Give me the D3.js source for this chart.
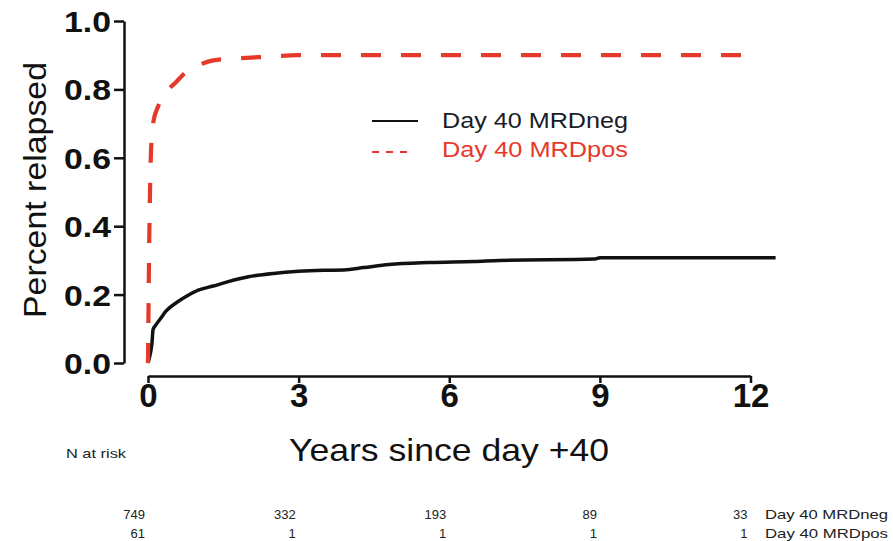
<!DOCTYPE html>
<html><head><meta charset="utf-8">
<script src="https://cdn.jsdelivr.net/npm/d3@7/dist/d3.min.js"></script>
<style>body{margin:0;background:#fff}svg{display:block;font-family:"Liberation Sans",Arial,sans-serif}</style>
</head><body><svg id="c" width="893" height="541"></svg>
<script>
const xTicks = [0, 3, 6, 9, 12];
const yTicks = [0.0, 0.2, 0.4, 0.6, 0.8, 1.0];
const negYears = [0, 0.05, 0.08, 0.1, 0.15, 0.25, 0.35, 0.45, 0.6, 0.8, 1.0, 1.3, 1.6, 2.0, 2.5, 3.0, 3.5, 3.9, 4.3, 4.8, 5.6, 6.5, 7.0, 8.9, 9.0, 12.5];
const negValues = [0, 0.03, 0.06, 0.097, 0.11, 0.13, 0.15, 0.164, 0.18, 0.198, 0.213, 0.225, 0.238, 0.252, 0.262, 0.268, 0.271, 0.272, 0.279, 0.288, 0.294, 0.297, 0.3, 0.304, 0.308, 0.308];
const posYears = [0, 0.01, 0.02, 0.04, 0.06, 0.1, 0.2, 0.35, 0.55, 0.75, 1.0, 1.3, 1.7, 2.3, 3.0, 12.2];
const posValues = [0, 0.15, 0.3, 0.5, 0.62, 0.7, 0.75, 0.79, 0.82, 0.85, 0.87, 0.885, 0.89, 0.895, 0.9, 0.9];
const seriesNames = ["Day 40 MRDneg", "Day 40 MRDpos"];
const riskNeg = [749, 332, 193, 89, 33];
const riskPos = [61, 1, 1, 1, 1];

const svg = d3.select("#c");
const x = d3.scaleLinear().domain([0, 12]).range([148, 750.5]);
const y = d3.scaleLinear().domain([0, 1]).range([363, 21]);
const red = "#e5392c";

// Y axis
const gy = svg.append("g").attr("transform", "translate(124,0)")
  .call(d3.axisLeft(y).tickValues(yTicks).tickFormat(d3.format(".1f")).tickSize(10).tickSizeOuter(0).tickPadding(3));
gy.select(".domain").attr("stroke", "#111").attr("stroke-width", 2.5);
gy.selectAll(".tick line").attr("stroke", "#111").attr("stroke-width", 2.5);
gy.selectAll(".tick text").attr("font-size", 29).attr("font-weight", "bold").attr("fill", "#111")
  .attr("font-family", "Liberation Sans, Arial, sans-serif").attr("dy", "0.36em")
  .attr("textLength", 47).attr("lengthAdjust", "spacingAndGlyphs");

// X axis
const gx = svg.append("g").attr("transform", "translate(0,376)")
  .call(d3.axisBottom(x).tickValues(xTicks).tickFormat(d3.format("d")).tickSize(7).tickSizeOuter(0).tickPadding(2));
gx.select(".domain").attr("stroke", "#111").attr("stroke-width", 2.5);
gx.selectAll(".tick line").attr("stroke", "#111").attr("stroke-width", 2.5);
gx.selectAll(".tick text").attr("font-size", 33).attr("font-weight", "bold").attr("fill", "#111")
  .attr("font-family", "Liberation Sans, Arial, sans-serif").attr("dy", "0.68em");

// Axis titles
svg.append("text").attr("transform", "translate(46,190) rotate(-90)").attr("text-anchor", "middle")
  .attr("font-size", 31).attr("fill", "#111").attr("textLength", 256).attr("lengthAdjust", "spacingAndGlyphs")
  .text("Percent relapsed");
svg.append("text").attr("x", 449).attr("y", 461).attr("text-anchor", "middle")
  .attr("font-size", 32).attr("fill", "#111").attr("textLength", 320).attr("lengthAdjust", "spacingAndGlyphs")
  .text("Years since day +40");

// Curves
const line = d3.line().x(d => x(d[0])).y(d => y(d[1])).curve(d3.curveMonotoneX);
svg.append("path").datum(negYears.map((t, i) => [t, negValues[i]])).attr("d", line)
  .attr("fill", "none").attr("stroke", "#111").attr("stroke-width", 3.5).attr("stroke-linejoin", "round");
svg.append("path").datum(posYears.map((t, i) => [t, posValues[i]])).attr("d", line)
  .attr("fill", "none").attr("stroke", red).attr("stroke-width", 4.2).attr("stroke-dasharray", "20,20");

// Legend
const lg = svg.append("g");
lg.append("line").attr("x1", 372).attr("x2", 418).attr("y1", 121).attr("y2", 121)
  .attr("stroke", "#111").attr("stroke-width", 2.2);
lg.append("line").attr("x1", 372).attr("x2", 412).attr("y1", 152).attr("y2", 152)
  .attr("stroke", red).attr("stroke-width", 2).attr("stroke-dasharray", "7,7");
lg.append("text").attr("x", 442).attr("y", 128).attr("font-size", 22).attr("fill", "#1a1c26")
  .attr("textLength", 186).attr("lengthAdjust", "spacingAndGlyphs").text(seriesNames[0]);
lg.append("text").attr("x", 442).attr("y", 157).attr("font-size", 22).attr("fill", red)
  .attr("textLength", 186).attr("lengthAdjust", "spacingAndGlyphs").text(seriesNames[1]);

// Risk table
svg.append("text").attr("x", 66).attr("y", 458).attr("font-size", 13).attr("fill", "#222")
  .attr("textLength", 60).attr("lengthAdjust", "spacingAndGlyphs").text("N at risk");
[[riskNeg, 519], [riskPos, 538]].forEach(([vals, yy], r) => {
  svg.append("g").selectAll("text").data(vals).join("text")
    .attr("x", (d, i) => x(xTicks[i]) - 3).attr("y", yy).attr("text-anchor", "end")
    .attr("font-size", 13).attr("fill", "#222").text(d => d);
  svg.append("text").attr("x", 765).attr("y", yy).attr("font-size", 13).attr("fill", "#222")
    .attr("textLength", 123).attr("lengthAdjust", "spacingAndGlyphs").text(seriesNames[r]);
});
</script></body></html>
